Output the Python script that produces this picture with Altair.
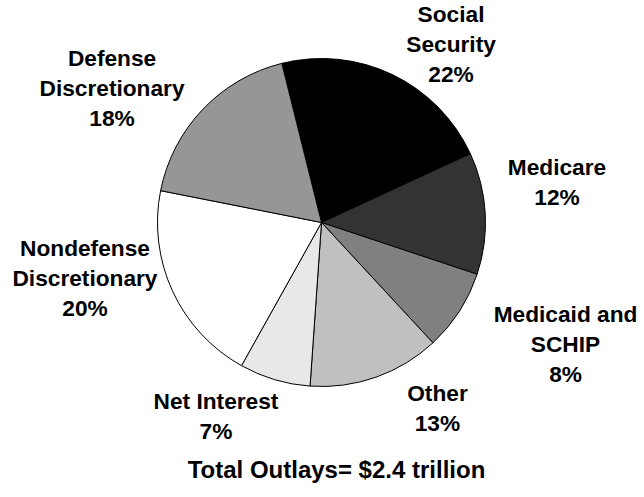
import math
import altair as alt
import pandas as pd

# Federal outlays by category (percent of total)
categories = [
    "Social Security",
    "Medicare",
    "Medicaid and SCHIP",
    "Other",
    "Net Interest",
    "Nondefense Discretionary",
    "Defense Discretionary",
]
shares = [22, 12, 8, 13, 7, 20, 18]
label_lines = [
    "Social\nSecurity",
    "Medicare",
    "Medicaid and\nSCHIP",
    "Other",
    "Net Interest",
    "Nondefense\nDiscretionary",
    "Defense\nDiscretionary",
]
fills = ["#000000", "#333333", "#808080", "#c0c0c0", "#e8e8e8", "#ffffff", "#969696"]

df = pd.DataFrame({
    "category": categories,
    "value": shares,
    "idx": list(range(len(categories))),
    "label": [f"{t}\n{v}%" for t, v in zip(label_lines, shares)],
})

# Pie starts a little left of 12 o'clock and runs clockwise
start = 2 * math.pi - math.radians(14)
theta_scale = alt.Scale(domain=[0, 100], range=[start, start + 2 * math.pi])

W, H = 643, 445
PIE_R = 164
LABEL_R = 210
LINE_H = 30
FONT = "Liberation Sans"

pie = alt.Chart(df).mark_arc(
    outerRadius=PIE_R, stroke="#000000", strokeWidth=1
).encode(
    theta=alt.Theta("value:Q", stack=True, scale=theta_scale),
    color=alt.Color("category:N", sort=categories,
                    scale=alt.Scale(domain=categories, range=fills), legend=None),
    order=alt.Order("idx:Q"),
)

# Per-label nudges from the slice mid-angle anchor (to the label block centre)
nudges = {
    "Social Security": (38.8, 11.4),
    "Medicare": (25.8, -28.0),
    "Medicaid and SCHIP": (67.5, 8.7),
    "Other": (46.2, -11.8),
    "Net Interest": (-45.5, -6.7),
    "Nondefense Discretionary": (-45.9, -32.0),
    "Defense Discretionary": (-57.4, 11.8),
}

layers = [pie]
for cat, lines in zip(categories, label_lines):
    dx, dy = nudges[cat]
    n_lines = lines.count("\n") + 2
    # multi-line text is anchored at its first line; shift up to centre the block
    dy -= (n_lines - 1) * LINE_H / 2
    layers.append(
        alt.Chart(df).transform_calculate(
            txt=f"datum.category === '{cat}' ? datum.label : ''"
        ).mark_text(
            radius=LABEL_R, dx=dx, dy=dy, align="center", baseline="middle",
            font=FONT, fontSize=22.7, fontWeight="bold", color="#000000",
            lineBreak="\n", lineHeight=LINE_H,
        ).encode(
            theta=alt.Theta("value:Q", stack=True, scale=theta_scale),
            order=alt.Order("idx:Q"),
            text=alt.Text("txt:N"),
        )
    )

chart = alt.layer(*layers).properties(
    width=W,
    height=H,
    autosize=alt.AutoSizeParams(type="none"),
    padding={"left": 0, "top": 0, "right": 1, "bottom": 52},
    title=alt.TitleParams(
        "Total Outlays= $2.4 trillion",
        orient="bottom", anchor="middle", frame="group",
        font=FONT, fontSize=24, fontWeight="bold", color="#000000",
        baseline="middle", offset=25.5, dx=15,
    ),
).configure_view(stroke=None).configure(background="#ffffff")

chart.save("out.html", embed_options={"renderer": "svg", "actions": False})
